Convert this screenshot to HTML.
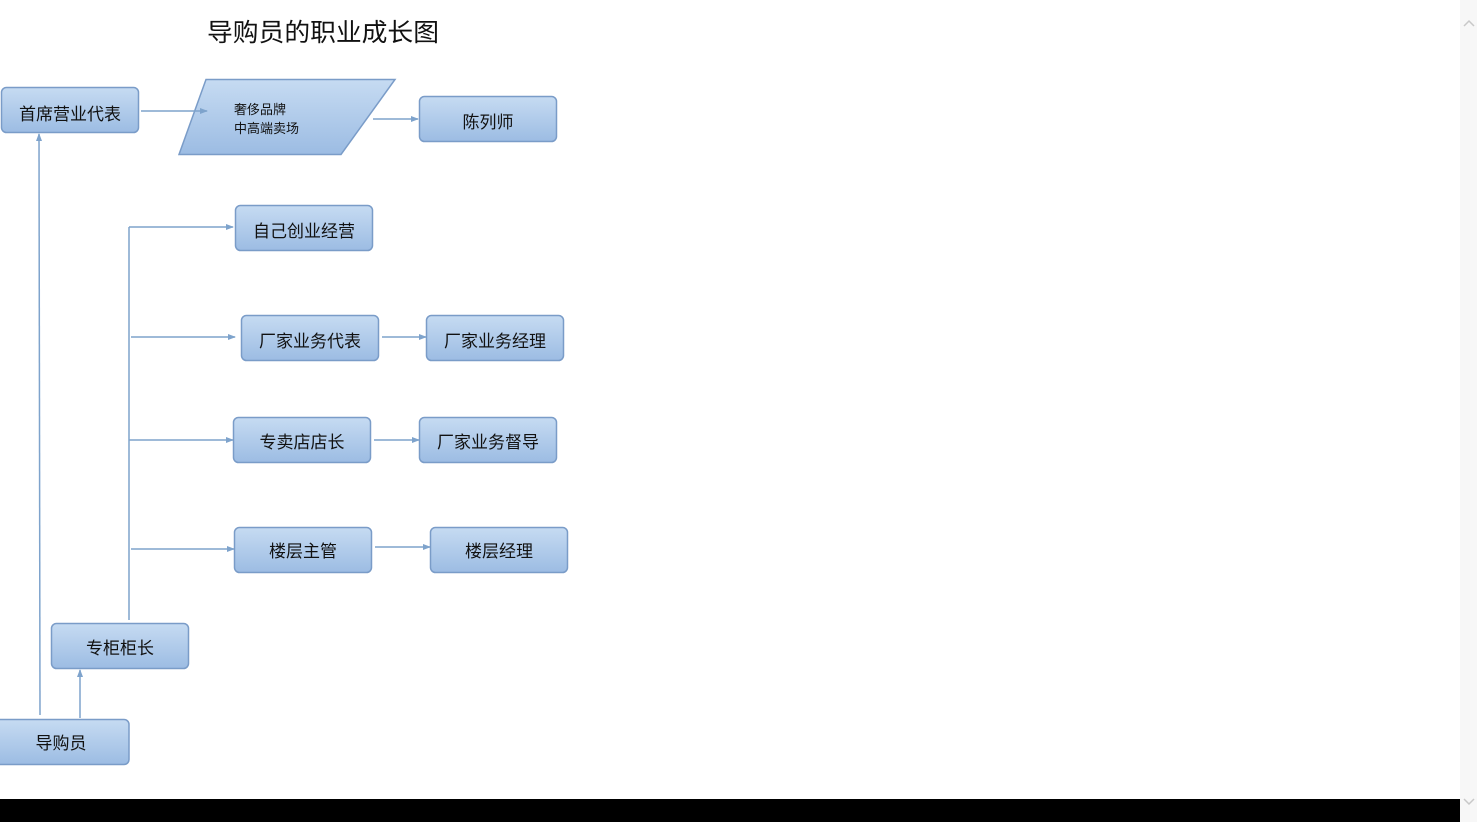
<!DOCTYPE html>
<html><head><meta charset="utf-8"><style>
html,body{margin:0;padding:0;background:#fff;}
body{width:1477px;height:822px;overflow:hidden;position:relative;}
svg{position:absolute;left:0;top:0;}
text{font-family:"Liberation Sans","Noto Sans CJK SC",sans-serif;fill:#111;}
</style></head><body>
<svg width="1477" height="822" viewBox="0 0 1477 822" xmlns="http://www.w3.org/2000/svg">
<defs>
<linearGradient id="g" x1="0" y1="0" x2="0" y2="1">
<stop offset="0" stop-color="#c6dbf2"/><stop offset="1" stop-color="#9cbce3"/>
</linearGradient>
<marker id="a" markerWidth="8" markerHeight="8" refX="7" refY="4" orient="auto" markerUnits="userSpaceOnUse">
<path d="M0,1 L8,4 L0,7 Z" fill="#7ea3cc"/>
</marker>
</defs>
<rect x="0" y="0" width="1460" height="799" fill="#fff"/>
<rect x="1460" y="0" width="17" height="822" fill="#f7f7f7"/>
<path d="M1464,26 L1469,21 L1474,26" stroke="#c8c8c8" stroke-width="1.5" fill="none"/>
<path d="M1464,799 L1469,804 L1474,799" stroke="#c8c8c8" stroke-width="1.5" fill="none"/>
<rect x="0" y="799" width="1460" height="23" fill="#000"/>

<text x="207" y="41" font-size="25" textLength="232" lengthAdjust="spacingAndGlyphs">导购员的职业成长图</text>

<g stroke="#7ea3cc" stroke-width="1.5" fill="none">
<line x1="40" y1="715" x2="39" y2="134" marker-end="url(#a)"/>
<line x1="80" y1="718" x2="80" y2="670" marker-end="url(#a)"/>
<line x1="129" y1="620" x2="129" y2="227"/>
<line x1="129" y1="227" x2="233" y2="227" marker-end="url(#a)"/>
<line x1="131" y1="337" x2="235" y2="337" marker-end="url(#a)"/>
<line x1="129" y1="440" x2="233" y2="440" marker-end="url(#a)"/>
<line x1="131" y1="549" x2="234" y2="549" marker-end="url(#a)"/>
<line x1="373" y1="119" x2="418" y2="119" marker-end="url(#a)"/>
<line x1="382" y1="337" x2="426" y2="337" marker-end="url(#a)"/>
<line x1="374" y1="440" x2="419" y2="440" marker-end="url(#a)"/>
<line x1="375" y1="547" x2="430" y2="547" marker-end="url(#a)"/>
</g>

<g fill="url(#g)" stroke="#7a9cc8" stroke-width="1.5">
<rect x="1.5" y="87.5" width="137" height="45" rx="5"/>
<polygon points="206,79.5 395,79.5 341,154.5 179,154.5"/>
<rect x="419.5" y="96.5" width="137" height="45" rx="5"/>
<rect x="235.5" y="205.5" width="137" height="45" rx="5"/>
<rect x="241.5" y="315.5" width="137" height="45" rx="5"/>
<rect x="426.5" y="315.5" width="137" height="45" rx="5"/>
<rect x="233.5" y="417.5" width="137" height="45" rx="5"/>
<rect x="419.5" y="417.5" width="137" height="45" rx="5"/>
<rect x="234.5" y="527.5" width="137" height="45" rx="5"/>
<rect x="430.5" y="527.5" width="137" height="45" rx="5"/>
<rect x="51.5" y="623.5" width="137" height="45" rx="5"/>
<rect x="-5" y="719.5" width="134" height="45" rx="5"/>
</g>
<line x1="141" y1="111" x2="207" y2="111" stroke="#7ea3cc" stroke-width="1.5" marker-end="url(#a)"/>

<g font-size="17" text-anchor="middle">
<text x="70" y="120">首席营业代表</text>
<text x="488" y="128">陈列师</text>
<text x="304" y="237">自己创业经营</text>
<text x="310" y="347">厂家业务代表</text>
<text x="495" y="347">厂家业务经理</text>
<text x="302" y="448">专卖店店长</text>
<text x="488" y="448">厂家业务督导</text>
<text x="303" y="557">楼层主管</text>
<text x="499" y="557">楼层经理</text>
<text x="120" y="654">专柜柜长</text>
<text x="61" y="749">导购员</text>
</g>
<text x="234" y="114" font-size="13">奢侈品牌</text>
<text x="234" y="133" font-size="13">中高端卖场</text>
</svg>
</body></html>
